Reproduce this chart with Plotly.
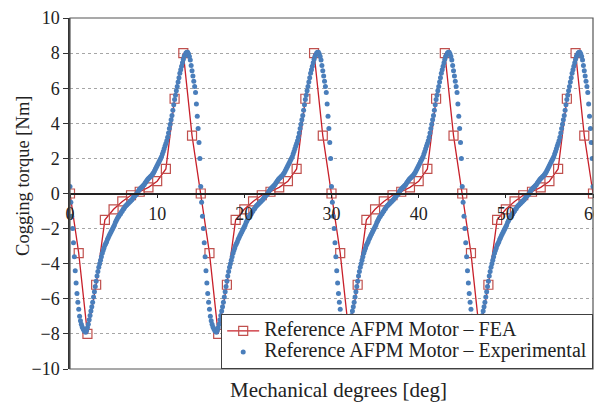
import numpy as np
import plotly.graph_objects as go

# FEA data (1 deg steps, 0..60)
fea_deg = list(range(0, 61))
fea_torque = [
    0.0, -3.4, -8.0, -5.2, -1.5, -0.9, -0.45, -0.1, 0.1, 0.35, 0.7, 1.4, 5.4, 8.0, 3.3,
    0.0, -3.4, -8.0, -5.2, -1.5, -0.9, -0.45, -0.1, 0.1, 0.35, 0.7, 1.4, 5.4, 8.0, 3.3,
    0.0, -3.4, -8.0, -5.2, -1.5, -0.9, -0.45, -0.1, 0.1, 0.35, 0.7, 1.4, 5.4, 8.0, 3.3,
    0.0, -3.4, -8.0, -5.2, -1.5, -0.9, -0.45, -0.1, 0.1, 0.35, 0.7, 1.4, 5.4, 8.0, 3.3,
    0.0,
]

# Experimental data: one 15-deg period sampled every 0.1 deg (repeats 4 times)
exp_period = [
    0.4, -0.5, -1.3, -2.0, -2.8, -3.6, -4.4, -5.1, -5.7, -6.2,
    -6.6, -7.0, -7.25, -7.45, -7.6, -7.7, -7.8, -7.85, -7.9, -7.8,
    -7.65, -7.45, -7.2, -6.95, -6.7, -6.45, -6.2, -5.9, -5.6, -5.3,
    -5.0, -4.7, -4.45, -4.2, -4.0, -3.8, -3.6, -3.4, -3.25, -3.1,
    -2.95, -2.85, -2.75, -2.6, -2.5, -2.4, -2.3, -2.2, -2.1, -2.0,
    -1.9, -1.8, -1.65, -1.55, -1.45, -1.35, -1.3, -1.2, -1.15, -1.05,
    -1.0, -0.9, -0.85, -0.75, -0.7, -0.65, -0.6, -0.55, -0.5, -0.45,
    -0.4, -0.35, -0.28, -0.2, -0.15, -0.1, -0.05, 0.0, 0.1, 0.18,
    0.25, 0.3, 0.35, 0.4, 0.45, 0.5, 0.58, 0.65, 0.72, 0.8,
    0.85, 0.9, 0.95, 1.0, 1.05, 1.12, 1.2, 1.3, 1.4, 1.5,
    1.6, 1.7, 1.8, 1.9, 2.0, 2.1, 2.25, 2.4, 2.55, 2.7,
    2.85, 3.0, 3.2, 3.45, 3.7, 3.95, 4.2, 4.45, 4.75, 5.05,
    5.35, 5.6, 5.85, 6.1, 6.35, 6.6, 6.85, 7.05, 7.25, 7.45,
    7.65, 7.8, 7.9, 8.0, 8.05, 8.05, 7.95, 7.8, 7.6, 7.3,
    7.0, 6.7, 6.4, 6.1, 5.75, 5.1, 4.4, 3.7, 2.9, 2.0,
]
n_periods = 4
exp_torque = list(np.tile(exp_period, n_periods)) + [exp_period[0]]
exp_deg = [round(i * 0.1, 1) for i in range(len(exp_torque))]

x_ticks = [0, 10, 20, 30, 40, 50, 60]
y_ticks = [-10, -8, -6, -4, -2, 0, 2, 4, 6, 8, 10]

FONT = "Liberation Serif"

def big(s):
    return '<span style="font-size:20px">' + s + '</span>'

fig = go.Figure()
fig.add_trace(go.Scatter(
    x=fea_deg, y=fea_torque, mode="lines+markers",
    name=big("Reference AFPM Motor \u2013 FEA"),
    line=dict(color="#C8202A", width=1.3),
    marker=dict(symbol="square-open", size=9, color="#C0504D", line=dict(width=1.2)),
))
fig.add_trace(go.Scatter(
    x=exp_deg, y=exp_torque, mode="markers",
    name=big("Reference AFPM Motor \u2013 Experimental"),
    marker=dict(symbol="circle", size=5, color="#4A7EBB"),
))

fig.update_layout(
    width=594, height=403,
    margin=dict(l=70, r=1, t=18, b=34, autoexpand=False),
    paper_bgcolor="white", plot_bgcolor="white",
    font=dict(family=FONT, size=18, color="#222"),
    showlegend=True,
    legend=dict(
        x=1, y=0, xanchor="right", yanchor="bottom",
        bgcolor="white", bordercolor="#404040", borderwidth=1.2,
        font=dict(family=FONT, size=14, color="#222"),
        tracegroupgap=0, itemwidth=32,
    ),
    xaxis=dict(
        range=[0, 60], tickvals=x_ticks, ticktext=[str(v) for v in x_ticks],
        anchor="free", position=0.5, showline=True, linecolor="#222", linewidth=1.5,
        ticks="outside", ticklen=4, tickcolor="#222", showgrid=False, zeroline=False,
        automargin=False, tickfont=dict(size=18), ticklabeloverflow="allow",
    ),
    yaxis=dict(
        range=[-10, 10], tickvals=y_ticks,
        ticktext=[("\u2212" + str(-v)) if v < 0 else str(v) for v in y_ticks],
        showline=True, linecolor="#333", linewidth=1.5,
        ticks="outside", ticklen=5, tickcolor="#333",
        showgrid=True, gridcolor="#A6A6A6", griddash="dot", gridwidth=1,
        zeroline=False, automargin=False, tickfont=dict(size=18),
    ),
    shapes=[dict(type="rect", xref="paper", yref="paper", x0=0, y0=0, x1=1, y1=1,
                 line=dict(color="#555", width=1.2), layer="above")],
    annotations=[
        dict(text="Mechanical degrees [deg]", xref="paper", yref="paper",
             x=0.514, y=-0.06, xanchor="center", yanchor="middle", showarrow=False,
             font=dict(family=FONT, size=21, color="#222")),
        dict(text="Cogging torque [Nm]", xref="paper", yref="paper",
             x=-0.09, y=0.55, xanchor="center", yanchor="middle", showarrow=False,
             textangle=-90, font=dict(family=FONT, size=18.5, color="#222")),
    ],
)

fig.write_html("out.html", config={"displayModeBar": False},
               post_script="document.body.style.margin='0';")
